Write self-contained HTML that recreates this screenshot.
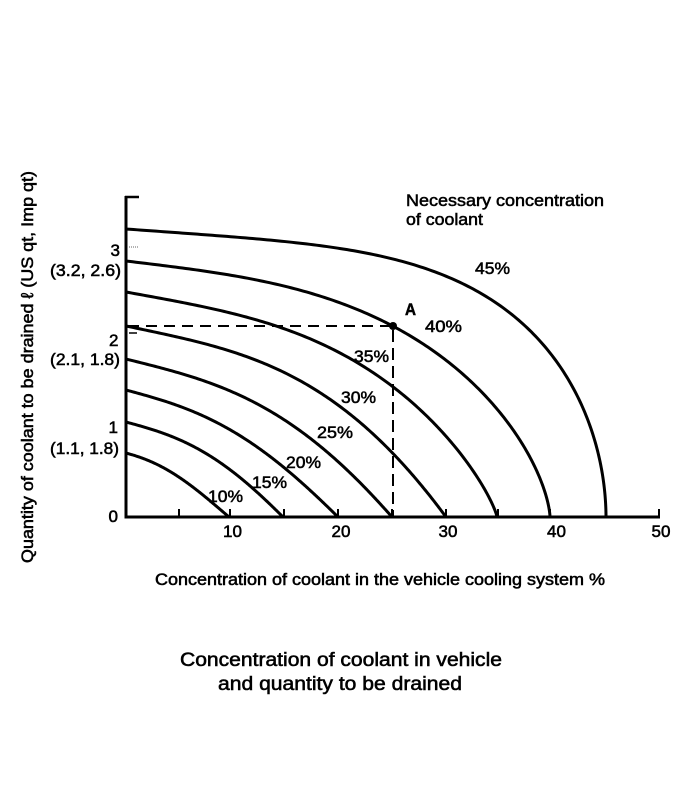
<!DOCTYPE html>
<html><head><meta charset="utf-8"><style>
html,body{margin:0;padding:0;background:#fff;}
svg{display:block;}
text{font-family:"Liberation Sans",Arial,sans-serif;fill:#000;stroke:#000;stroke-width:0.55px;}
</style></head><body>
<svg id="s" width="688" height="802" viewBox="0 0 688 802" xmlns="http://www.w3.org/2000/svg">
<rect width="688" height="802" fill="#fff"/>
<!-- axes -->
<g stroke="#000" fill="none" stroke-linecap="butt">
<line x1="126" y1="196" x2="126" y2="518.5" stroke-width="3"/>
<line x1="125" y1="197" x2="139" y2="197" stroke-width="2.5"/>
<line x1="124.5" y1="517" x2="660" y2="517" stroke-width="3"/>
<line x1="659" y1="509" x2="659" y2="517" stroke-width="2"/>
<g stroke-width="2">
<line x1="179" y1="509" x2="179" y2="517"/>
<line x1="230" y1="509" x2="230" y2="517"/>
<line x1="284" y1="509" x2="284" y2="517"/>
<line x1="338" y1="509" x2="338" y2="517"/>
<line x1="392" y1="509" x2="392" y2="517"/>
<line x1="446" y1="509" x2="446" y2="517"/>
<line x1="498" y1="509" x2="498" y2="517"/>
<line x1="550" y1="509" x2="550" y2="517"/>
<line x1="606" y1="509" x2="606" y2="517"/>
</g>
<line x1="129" y1="247" x2="138" y2="247" stroke-width="1" stroke="#666" stroke-dasharray="1 1"/>
<line x1="129" y1="333" x2="137" y2="333" stroke-width="1.5"/>
<!-- dashed guides -->
<line x1="128" y1="326" x2="390" y2="326" stroke-width="2" stroke-dasharray="11 7"/>
<line x1="393" y1="330" x2="393" y2="516" stroke-width="2" stroke-dasharray="12 6"/>
</g>
<!-- curves -->
<g id="curves" stroke="#000" stroke-width="3" fill="none" stroke-linejoin="round">
<polyline points="126,229 236,237 346,249 396,260 430,270 497,300 543,343 563,370 580,407 597,460 606,517"/>
<polyline points="126,261 236,278 346,306 393,326 430,345 463,373 497,410 520,447 537,480 550,517"/>
<polyline points="126,292 193,300 263,323 346,358 396,393 430,420 463,453 480,477 497,517"/>
<polyline points="126,326 193,343 236,357 289,378 346,412 396,453 430,490 446,517"/>
<polyline points="126,359 198,379 261,402 309,430 350,464 379,495 392,517"/>
<polyline points="126,390 170,401 199,410 234,424 272,447 305,474 327,499 338,517"/>
<polyline points="126,422 159,430 180,438 206,448 234,465 258,485 275,500 283,517"/>
<polyline points="126,453 150,461 172,471 192,484 208,498 220,508 229,517"/>
</g>
<circle cx="393" cy="326" r="4" fill="#000"/>
<!-- curve labels -->
<g font-size="17">
<text x="406" y="206" textLength="198" lengthAdjust="spacingAndGlyphs">Necessary concentration</text>
<text x="406" y="225" textLength="77" lengthAdjust="spacingAndGlyphs">of coolant</text>
<text x="475" y="274" textLength="35" lengthAdjust="spacingAndGlyphs">45%</text>
<text x="405" y="315" font-weight="bold" textLength="11" lengthAdjust="spacingAndGlyphs">A</text>
<text x="425" y="332" textLength="37" lengthAdjust="spacingAndGlyphs">40%</text>
<text x="354" y="362" textLength="35" lengthAdjust="spacingAndGlyphs">35%</text>
<text x="341" y="403" textLength="35" lengthAdjust="spacingAndGlyphs">30%</text>
<text x="317" y="438" textLength="36" lengthAdjust="spacingAndGlyphs">25%</text>
<text x="286" y="468" textLength="35" lengthAdjust="spacingAndGlyphs">20%</text>
<text x="252" y="488" textLength="35" lengthAdjust="spacingAndGlyphs">15%</text>
<text x="208" y="502" textLength="35" lengthAdjust="spacingAndGlyphs">10%</text>
</g>
<!-- x tick labels -->
<g font-size="17" text-anchor="middle">
<text x="232.5" y="537">10</text>
<text x="341" y="537">20</text>
<text x="448" y="537">30</text>
<text x="556.5" y="537">40</text>
<text x="661" y="537">50</text>
</g>
<!-- y tick labels -->
<g font-size="17" text-anchor="end">
<text x="118" y="522">0</text>
<text x="118" y="433">1</text>
<text x="119" y="454" textLength="69" lengthAdjust="spacingAndGlyphs">(1.1, 1.8)</text>
<text x="118.5" y="346">2</text>
<text x="120" y="365" textLength="70" lengthAdjust="spacingAndGlyphs">(2.1, 1.8)</text>
<text x="120" y="256">3</text>
<text x="121" y="276" textLength="71" lengthAdjust="spacingAndGlyphs">(3.2, 2.6)</text>
</g>
<!-- axis titles -->
<text font-size="17" transform="translate(33,563) rotate(-90)" textLength="392" lengthAdjust="spacingAndGlyphs">Quantity of coolant to be drained ℓ (US qt, Imp qt)</text>
<text font-size="16.5" x="155" y="585" textLength="450" lengthAdjust="spacingAndGlyphs">Concentration of coolant in the vehicle cooling system %</text>
<!-- caption -->
<text font-size="19" x="180" y="666" textLength="322" lengthAdjust="spacingAndGlyphs">Concentration of coolant in vehicle</text>
<text font-size="19" x="218" y="690" textLength="244" lengthAdjust="spacingAndGlyphs">and quantity to be drained</text>
</svg>
<script>
(function(){
  // [x1 (end on axis), y0 (start height), c, a, b]
  var defs=[
    [606,229,0.12,4.4,0.52],
    [550,261,0.20,3.3,0.65],
    [497,292,0.30,3.5,0.8],
    [446,326,0.35,3.5,1.0],
    [392,359,0.42,3.3,1.0],
    [338,390,0.45,3.0,1.0],
    [283,422,0.45,3.0,1.0],
    [229,453,0.45,2.5,1.0]
  ];
  var x0=126, base=517;
  var pls=document.querySelectorAll('#curves polyline');
  for(var k=0;k<pls.length && k<defs.length;k++){
    var d=defs[k], W=d[0]-x0, H=base-d[1];
    var pts=[];
    var N=200;
    for(var i=0;i<=N;i++){
      var s=i/N;
      var t=Math.sin(s*Math.PI/2);
      var inner=1-Math.pow(t,d[3]); if(inner<0)inner=0;
      var yn=(1-d[2]*t)*Math.pow(inner,d[4]);
      pts.push((x0+W*t).toFixed(2)+","+(base-H*yn).toFixed(2));
    }
    pls[k].setAttribute('points',pts.join(' '));
  }
})();
</script>
</body></html>
